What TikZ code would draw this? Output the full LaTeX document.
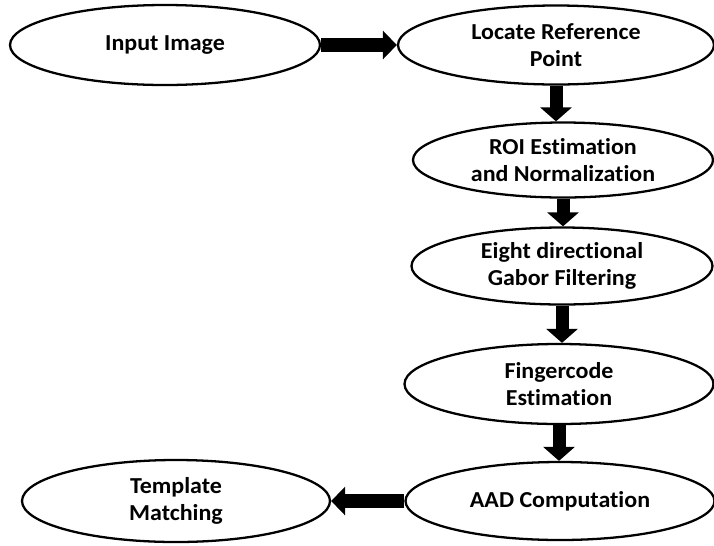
\documentclass[tikz,border=0pt]{standalone}
\usepackage{fontspec}
\newfontfamily\stagefont[FakeStretch=1.05,Ligatures=NoCommon]{Carlito}
\usetikzlibrary{arrows.meta,shapes.geometric}
\tikzset{
  stage/.style ={ellipse,draw,line width=1.3pt,inner sep=0pt,align=center,
                 font=\stagefont\bfseries\fontsize{13}{15.4}\selectfont},
  flowh/.style ={line width=0.29cm,-{Triangle[length=0.28cm,width=0.56cm]}},
  flowv/.style ={line width=0.26cm,-{Triangle[length=0.28cm,width=0.62cm]}},
}
\begin{document}
\begin{tikzpicture}
  \useasboundingbox (0,0) rectangle (14.28,-10.9);
  \node[stage,minimum width=6.2cm,minimum height=1.6cm]   (inp) at (3.3,-0.9)    {Input Image};
  \node[stage,minimum width=6.32cm,minimum height=1.58cm] (loc) at (11.12,-0.9)  {Locate Reference\\Point};
  \node[stage,minimum width=6.0cm,minimum height=1.5cm]   (roi) at (11.26,-3.2)  {ROI Estimation\\and Normalization};
  \node[stage,minimum width=6.02cm,minimum height=1.54cm] (gab) at (11.24,-5.32) {Eight directional\\Gabor Filtering};
  \node[stage,minimum width=6.18cm,minimum height=1.6cm]  (fc)  at (11.18,-7.68) {Fingercode\\Estimation};
  \node[stage,minimum width=6.18cm,minimum height=1.56cm] (aad) at (11.2,-10.02) {AAD Computation};
  \node[stage,minimum width=6.16cm,minimum height=1.64cm] (tmp) at (3.52,-10.02) {Template\\Matching};
  % flow of the stages
  \draw[flowh] (inp.east) -- (loc.west);
  \draw[flowv] (loc.south) -- (loc.south |- roi.north);
  \draw[flowv] (roi.south) -- (roi.south |- gab.north);
  \draw[flowv] (gab.south) -- (gab.south |- fc.north);
  \draw[flowv] (fc.south)  -- (fc.south |- aad.north);
  \draw[flowh] (aad.west) -- (tmp.east);
\end{tikzpicture}
\end{document}
